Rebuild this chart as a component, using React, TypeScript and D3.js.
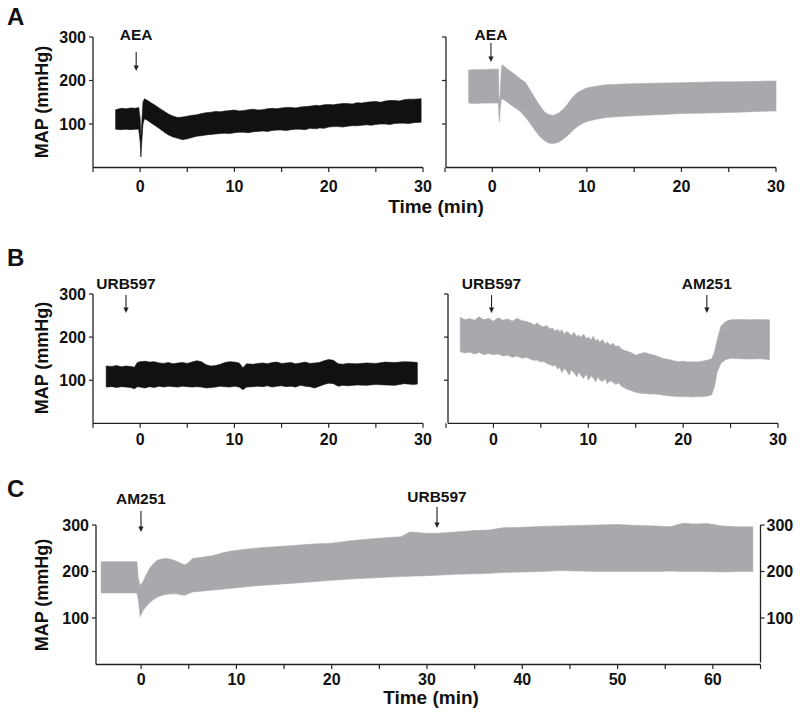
import React from 'react';
import * as d3 from 'd3';

const FONT = 'Arial, "Liberation Sans", Helvetica, sans-serif';
const BLACK = '#111111';
const GRAY = '#a7a9ac';
const AXIS = '#222222';

// ---------- Data: MAP traces (lower / upper envelope, mmHg) ----------
// A left (AEA, black)
const aLeftTime = [-2.6, -2.0, -1.5, -1.0, -0.5, -0.15, 0.0, 0.08, 0.18, 0.3, 0.45, 0.8, 1.2, 1.6, 2.0, 2.5, 3.0, 3.5, 4.0, 4.5, 5.0, 5.5, 6.0, 6.5, 7.0, 7.5, 8.0, 8.5, 9.0, 9.5, 10, 10.5, 11, 11.5, 12, 12.5, 13, 13.5, 14, 14.5, 15, 15.5, 16, 16.5, 17, 17.5, 18, 18.7, 19, 19.5, 20, 20.5, 21, 21.5, 22, 22.5, 23, 23.5, 24, 24.5, 25, 25.5, 26, 26.5, 27, 27.5, 28, 28.5, 29, 29.8];
const aLeftLow = [88, 87, 88, 87, 88, 88, 60, 24, 60, 100, 112, 108, 102, 96, 90, 82, 75, 70, 67, 64, 66, 69, 72, 73, 75, 76, 77, 78, 79, 78, 80, 81, 81, 80, 82, 83, 84, 83, 85, 86, 86, 85, 87, 88, 88, 87, 90, 89, 91, 90, 93, 94, 94, 93, 95, 96, 96, 97, 98, 97, 99, 100, 100, 99, 101, 102, 102, 101, 103, 104];
const aLeftHigh = [133, 136, 135, 137, 136, 138, 112, 70, 105, 150, 158, 154, 148, 143, 137, 130, 123, 118, 115, 116, 118, 120, 121, 124, 126, 127, 129, 128, 130, 131, 132, 130, 131, 133, 134, 132, 133, 135, 136, 135, 137, 138, 138, 137, 139, 140, 141, 143, 142, 144, 145, 144, 146, 147, 147, 146, 149, 148, 150, 151, 152, 150, 153, 154, 154, 153, 156, 157, 157, 158];

// A right (AEA, gray)
const aRightTime = [-2.5, -2.0, -1.0, 0.0, 0.65, 0.7, 0.75, 0.85, 0.95, 1.05, 1.5, 2.0, 2.5, 3.0, 3.5, 4.0, 4.5, 5.0, 5.5, 6.0, 6.5, 7.0, 7.5, 8.0, 8.5, 9.0, 9.5, 10, 11, 12, 14, 16, 18, 20, 22, 24, 26, 28, 30];
const aRightLow = [148, 147, 148, 148, 148, 120, 105, 140, 155, 158, 152, 143, 136, 128, 116, 102, 86, 72, 62, 56, 55, 58, 65, 74, 85, 94, 101, 106, 111, 115, 118, 120, 122, 124, 125, 126, 127, 129, 130];
const aRightHigh = [224, 225, 225, 226, 226, 165, 150, 172, 225, 236, 228, 220, 212, 203, 196, 178, 160, 143, 128, 121, 120, 125, 134, 147, 162, 172, 178, 183, 187, 190, 192, 193, 194, 195, 196, 197, 197, 198, 199];

// B left (URB597, black)
const bLeftTime = [-3.6, -3.0, -2.5, -2.0, -1.5, -1.0, -0.6, -0.3, 0, 0.5, 1.0, 1.5, 2.0, 2.5, 3.0, 3.5, 4.0, 4.5, 5.0, 5.5, 6.0, 6.5, 7.0, 7.5, 8.0, 8.5, 9.0, 9.5, 10.0, 10.5, 10.9, 11.3, 12.0, 12.5, 13.0, 13.5, 14.0, 14.5, 15.0, 15.5, 16.0, 16.5, 17.0, 17.5, 18.0, 18.5, 19.0, 19.5, 20.0, 20.5, 21.0, 21.5, 22, 23, 24, 25, 26, 27, 28, 29, 29.4];
const bLeftLow = [84, 85, 83, 85, 84, 83, 80, 85, 84, 82, 85, 83, 86, 84, 86, 85, 84, 86, 85, 84, 85, 84, 82, 83, 84, 86, 85, 84, 86, 84, 78, 84, 85, 86, 85, 87, 84, 86, 87, 85, 86, 84, 88, 86, 85, 82, 86, 90, 93, 92, 86, 88, 87, 89, 88, 90, 89, 88, 92, 90, 91];
const bLeftHigh = [133, 132, 134, 131, 133, 132, 130, 141, 143, 144, 142, 143, 140, 139, 141, 138, 140, 141, 139, 142, 145, 143, 136, 133, 134, 137, 141, 143, 142, 140, 129, 138, 137, 139, 140, 138, 141, 142, 139, 140, 141, 138, 140, 142, 139, 140, 141, 145, 148, 146, 138, 137, 139, 138, 140, 139, 142, 141, 143, 142, 141];

// B right (URB597 then AM251, gray)
const bRightTime = [-3.5, -3.0, -2.5, -2.0, -1.5, -1.0, -0.5, 0, 0.5, 1.0, 1.5, 2.0, 2.5, 3.0, 3.5, 4.0, 4.3, 4.6, 5.0, 5.3, 5.6, 6.0, 6.2, 6.5, 6.8, 7.0, 7.2, 7.5, 7.7, 8.0, 8.2, 8.5, 8.8, 9.0, 9.2, 9.5, 9.8, 10.0, 10.3, 10.5, 10.8, 11.0, 11.2, 11.5, 11.8, 12.0, 12.3, 12.6, 12.9, 13.2, 13.5, 14.0, 14.5, 15.0, 15.5, 16.0, 16.5, 17.0, 17.5, 18.0, 18.5, 19.0, 19.5, 20.0, 20.5, 21.0, 21.5, 22.0, 22.5, 23.0, 23.3, 23.6, 24.0, 24.5, 25.0, 26.0, 27.0, 28.0, 29.1];
const bRightLow = [166, 163, 165, 161, 164, 159, 162, 159, 161, 156, 158, 153, 156, 151, 153, 148, 146, 147, 142, 144, 139, 136, 133, 135, 126, 130, 118, 127, 122, 112, 124, 117, 108, 119, 112, 104, 115, 100, 110, 106, 96, 108, 101, 97, 104, 92, 99, 95, 90, 94, 86, 80, 76, 72, 70, 69, 68, 68, 67, 65, 64, 63, 62, 62, 62, 61, 62, 62, 63, 66, 85, 120, 140, 148, 151, 150, 149, 150, 148];
const bRightHigh = [246, 240, 243, 239, 247, 240, 244, 237, 245, 239, 242, 237, 244, 238, 236, 232, 228, 233, 226, 224, 227, 219, 221, 214, 218, 212, 217, 206, 213, 209, 203, 211, 201, 205, 199, 207, 196, 200, 193, 202, 191, 195, 188, 194, 184, 189, 181, 186, 178, 180, 172, 168, 164, 158, 162, 164, 160, 158, 154, 150, 148, 145, 143, 144, 142, 143, 142, 144, 146, 150, 165, 195, 226, 236, 240, 241, 240, 241, 240];

// C (AM251 then URB597, gray)
const cTime = [-4.2, -0.45, -0.3, -0.1, 0.2, 0.5, 0.9, 1.3, 1.7, 2.2, 2.7, 3.2, 3.7, 4.2, 4.6, 4.9, 5.4, 6.5, 7.5, 8.5, 9.5, 11, 12.5, 14, 16, 18, 20, 22, 24, 26, 27.3, 28.2, 30, 31, 33, 35, 36.5, 38, 40, 42, 44, 46, 48, 50, 52, 54, 55.5, 56.9, 58, 59.4, 61, 62.5, 64.2];
const cLow = [154, 154, 140, 103, 116, 124, 133, 140, 145, 149, 151, 152, 152, 150, 149, 152, 156, 158, 160, 162, 164, 167, 170, 172, 175, 178, 181, 184, 186, 188, 189, 190, 191, 192, 194, 195, 196, 198, 199, 200, 202, 201, 200, 200, 200, 200, 201, 200, 200, 200, 199, 200, 200];
const cHigh = [221, 221, 185, 170, 178, 192, 207, 217, 224, 227, 228, 226, 222, 217, 214, 218, 228, 231, 234, 240, 244, 248, 251, 253, 256, 259, 261, 266, 270, 273, 275, 285, 282, 282, 285, 288, 289, 294, 295, 297, 298, 299, 300, 301, 299, 298, 296, 304, 302, 303, 298, 296, 296];

// ---------- Tick / label values ----------
const xTicks30 = [-5, 0, 5, 10, 15, 20, 25, 30];
const xLabels30 = [0, 10, 20, 30];
const xTicksC = [0, 5, 10, 15, 20, 25, 30, 35, 40, 45, 50, 55, 60, 65];
const xLabelsC = [0, 10, 20, 30, 40, 50, 60];
const yTicks = [100, 200, 300];
const yLabels = [100, 200, 300];

type Ann = { label: string; t: number; textY: number; a1: number; a2: number };

type PanelProps = {
  time: number[];
  low: number[];
  high: number[];
  color: string;
  xDomain: [number, number];
  xRange: [number, number];
  yAxisX: number;
  yBase: number;
  yTop: number;
  xTicks: number[];
  xLabels: number[];
  labelY: number;
  leftLabels: boolean;
  rightAxisX?: number;
  anns: Ann[];
};

const TICK_FS = 16;
const ANN_FS = 15.5;

function Panel(p: PanelProps) {
  const x = d3.scaleLinear().domain(p.xDomain).range(p.xRange);
  const y = d3.scaleLinear().domain([0, 300]).range([p.yBase, p.yTop]);
  const area = d3
    .area<number>()
    .x((d) => x(d))
    .y0((_d, i) => y(p.low[i]))
    .y1((_d, i) => y(p.high[i]));
  const xEnd = x(p.xTicks[p.xTicks.length - 1]);
  return (
    <g>
      <path d={area(p.time) || ''} fill={p.color} stroke={p.color} strokeWidth={0.6} />
      <line x1={p.yAxisX} x2={p.yAxisX} y1={p.yBase} y2={p.yTop} stroke={AXIS} strokeWidth={1.3} />
      {yTicks.map((v) => (
        <line key={'yt' + v} x1={p.yAxisX - 4} x2={p.yAxisX} y1={y(v)} y2={y(v)} stroke={AXIS} strokeWidth={1.2} />
      ))}
      {p.leftLabels &&
        yLabels.map((v) => (
          <text key={'yl' + v} x={p.yAxisX - 7} y={y(v)} dy="0.36em" textAnchor="end" fontSize={TICK_FS} fontWeight="bold" fill={BLACK}>
            {v}
          </text>
        ))}
      {p.rightAxisX !== undefined && (
        <g>
          <line x1={p.rightAxisX} x2={p.rightAxisX} y1={p.yBase - 2} y2={p.yTop} stroke={AXIS} strokeWidth={1.3} />
          {yTicks.map((v) => (
            <line key={'rt' + v} x1={p.rightAxisX} x2={(p.rightAxisX as number) + 4} y1={y(v)} y2={y(v)} stroke={AXIS} strokeWidth={1.2} />
          ))}
          {yLabels.map((v) => (
            <text key={'rl' + v} x={(p.rightAxisX as number) + 6} y={y(v)} dy="0.36em" textAnchor="start" fontSize={TICK_FS} fontWeight="bold" fill={BLACK}>
              {v}
            </text>
          ))}
        </g>
      )}
      <line x1={p.yAxisX} x2={xEnd} y1={p.yBase} y2={p.yBase} stroke={AXIS} strokeWidth={1.3} />
      {p.xTicks.map((v) => (
        <line key={'xt' + v} x1={x(v)} x2={x(v)} y1={p.yBase} y2={p.yBase + 4.5} stroke={AXIS} strokeWidth={1.2} />
      ))}
      {p.xLabels.map((v) => (
        <text key={'xl' + v} x={x(v)} y={p.labelY} textAnchor="middle" fontSize={TICK_FS} fontWeight="bold" fill={BLACK}>
          {v}
        </text>
      ))}
      {p.anns.map((a) => {
        const ax = x(a.t);
        return (
          <g key={a.label}>
            <text x={ax} y={a.textY} textAnchor="middle" fontSize={ANN_FS} fontWeight="bold" fill={BLACK}>
              {a.label}
            </text>
            <line x1={ax} x2={ax} y1={a.a1} y2={a.a2 - 4} stroke={AXIS} strokeWidth={1.1} />
            <path d={`M${ax - 2.6},${a.a2 - 5.5}L${ax + 2.6},${a.a2 - 5.5}L${ax},${a.a2}Z`} fill={AXIS} />
          </g>
        );
      })}
    </g>
  );
}

function YTitle({ cx, cy }: { cx: number; cy: number }) {
  return (
    <text transform={`translate(${cx},${cy}) rotate(-90)`} textAnchor="middle" fontSize={18} fontWeight="bold" fill={BLACK}>
      MAP (mmHg)
    </text>
  );
}

export default function App() {
  return (
    <svg
      width={800}
      height={716}
      viewBox="0 0 800 716"
      style={{ position: 'absolute', left: 0, top: 0, background: '#ffffff' }}
      fontFamily={FONT}
    >
      <rect x={0} y={0} width={800} height={716} fill="#ffffff" />
      <text x={7} y={25} fontSize={24} fontWeight="bold" fill={BLACK}>A</text>
      <text x={7} y={266} fontSize={24} fontWeight="bold" fill={BLACK}>B</text>
      <text x={7} y={497} fontSize={24} fontWeight="bold" fill={BLACK}>C</text>

      <YTitle cx={48} cy={102} />
      <YTitle cx={48} cy={358} />
      <YTitle cx={48} cy={595} />

      <Panel
        time={aLeftTime} low={aLeftLow} high={aLeftHigh} color={BLACK}
        xDomain={[-5, 30]} xRange={[93, 423]} yAxisX={93} yBase={167.5} yTop={37}
        xTicks={xTicks30} xLabels={xLabels30} labelY={192} leftLabels={true}
        anns={[{ label: 'AEA', t: -0.42, textY: 40, a1: 52, a2: 71 }]}
      />
      <Panel
        time={aRightTime} low={aRightLow} high={aRightHigh} color={GRAY}
        xDomain={[-5, 30]} xRange={[445, 776]} yAxisX={446} yBase={167.5} yTop={37}
        xTicks={xTicks30} xLabels={xLabels30} labelY={192} leftLabels={false}
        anns={[{ label: 'AEA', t: -0.14, textY: 40, a1: 43, a2: 62 }]}
      />
      <text x={436} y={213} textAnchor="middle" fontSize={19} fontWeight="bold" fill={BLACK}>Time (min)</text>

      <Panel
        time={bLeftTime} low={bLeftLow} high={bLeftHigh} color={BLACK}
        xDomain={[-5, 30]} xRange={[93, 423]} yAxisX={93} yBase={423.3} yTop={294}
        xTicks={xTicks30} xLabels={xLabels30} labelY={445} leftLabels={true}
        anns={[{ label: 'URB597', t: -1.5, textY: 289, a1: 295, a2: 313 }]}
      />
      <Panel
        time={bRightTime} low={bRightLow} high={bRightHigh} color={GRAY}
        xDomain={[-5, 30]} xRange={[446, 778]} yAxisX={448} yBase={423.3} yTop={294}
        xTicks={xTicks30} xLabels={xLabels30} labelY={445} leftLabels={false}
        anns={[
          { label: 'URB597', t: -0.2, textY: 289, a1: 295, a2: 313 },
          { label: 'AM251', t: 22.5, textY: 289, a1: 295, a2: 313 },
        ]}
      />

      <Panel
        time={cTime} low={cLow} high={cHigh} color={GRAY}
        xDomain={[-5, 65]} xRange={[93.5, 760.5]} yAxisX={96} yBase={664.5} yTop={525}
        xTicks={xTicksC} xLabels={xLabelsC} labelY={685} leftLabels={true} rightAxisX={760.5}
        anns={[
          { label: 'AM251', t: -0.02, textY: 504, a1: 511, a2: 532 },
          { label: 'URB597', t: 31.05, textY: 502, a1: 507, a2: 528 },
        ]}
      />
      <text x={431} y={704} textAnchor="middle" fontSize={19} fontWeight="bold" fill={BLACK}>Time (min)</text>
    </svg>
  );
}
